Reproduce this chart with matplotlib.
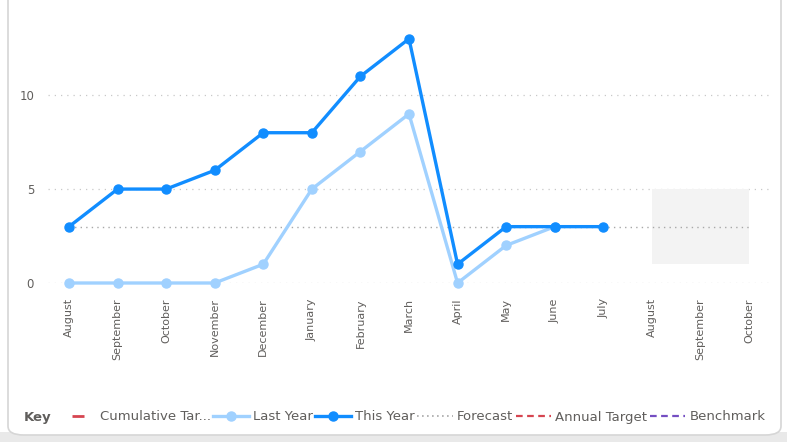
import numpy as np
import matplotlib.pyplot as plt
from matplotlib.lines import Line2D
from matplotlib.patches import FancyBboxPatch, Rectangle

months = ["August", "September", "October", "November", "December", "January",
          "February", "March", "April", "May", "June", "July",
          "August", "September", "October"]
last_year = [0, 0, 0, 0, 1, 5, 7, 9, 0, 2, 3]
this_year = [3, 5, 5, 6, 8, 8, 11, 13, 1, 3, 3, 3]
forecast_level = 3
band_start, band_end = 12, 14
band_low, band_high = 1, 5
yticks = [0, 5, 10]

c_this = "#118DFF"
c_last = "#A0D1FF"
c_text = "#605E5C"

plt.rcParams['font.family'] = ['DejaVu Sans']

W, H = 787, 442
fig = plt.figure(figsize=(W / 100, H / 100), dpi=100)

# card background
fig.patches.append(Rectangle((0, 0), 1, 10 / H, transform=fig.transFigure,
                             facecolor="#E9E9E9", edgecolor="none", zorder=-3))
fig.patches.append(FancyBboxPatch((8 / W, 7 / H), 773 / W, 1.2,
                                  boxstyle="round,pad=0,rounding_size=0.02",
                                  transform=fig.transFigure, facecolor="white",
                                  edgecolor="#D6D6D6", linewidth=1.2, zorder=-2))

ax = fig.add_axes([48 / W, 1 - 283 / H, (770 - 48) / W, 263 / H])
ax.set_facecolor("none")
x = np.arange(len(months))
step = (749 - 69) / 14
ax.set_xlim(-(69 - 48) / step, 14 + (770 - 749) / step)
ax.set_ylim(0, 14)

for yv in yticks:
    ax.axhline(yv, color="#C8C8C8", linestyle=(0, (1, 4)), linewidth=0.9, zorder=0)

ax.fill_between([band_start, band_end], band_low, band_high, color="#F3F3F3",
                linewidth=0, zorder=0.5)
ax.plot([0, 14], [forecast_level, forecast_level], color="#A8A8A8",
        linestyle=(0, (1, 3)), linewidth=1.0, zorder=1)

ax.plot(x[:len(last_year)], last_year, color=c_last, linewidth=2.4, marker="o",
        markersize=6.5, clip_on=False, zorder=3)
ax.plot(x[:len(this_year)], this_year, color=c_this, linewidth=2.4, marker="o",
        markersize=6.5, clip_on=False, zorder=4)

ax.set_xticks(x)
ax.set_xticklabels(months, rotation=90, fontsize=8, color=c_text)
ax.set_yticks(yticks)
ax.set_yticklabels([str(v) for v in yticks], fontsize=8.5, color=c_text)
ax.tick_params(axis="x", length=0, pad=11)
ax.tick_params(axis="y", length=0, pad=10)
for s in ax.spines.values():
    s.set_visible(False)

fig.text(24 / W, 1 - 417 / H, "Key", fontsize=9.5, fontweight="bold",
         color=c_text, va="center", ha="left")

handles = [
    Line2D([], [], color="#D64550", marker="_", markersize=9, markeredgewidth=2,
           linestyle="None"),
    Line2D([], [], color=c_last, linewidth=2.4, marker="o", markersize=6.5),
    Line2D([], [], color=c_this, linewidth=2.4, marker="o", markersize=6.5),
    Line2D([], [], color="#A8A8A8", linewidth=1.2, linestyle=(0, (1, 2))),
    Line2D([], [], color="#D64550", linewidth=1.6, linestyle=(0, (3, 2))),
    Line2D([], [], color="#744EC2", linewidth=1.6, linestyle=(0, (3, 2))),
]
labels = ["Cumulative Tar...", "Last Year", "This Year", "Forecast",
          "Annual Target", "Benchmark"]
leg = fig.legend(handles, labels, loc="center left",
                 bbox_to_anchor=(60 / W, 1 - 417 / H), ncol=6, frameon=False,
                 fontsize=9.5, handlelength=2.7, handletextpad=0.3,
                 columnspacing=0.2, borderaxespad=0, borderpad=0)
for t in leg.get_texts():
    t.set_color(c_text)

fig.savefig("out.png", dpi=100)
